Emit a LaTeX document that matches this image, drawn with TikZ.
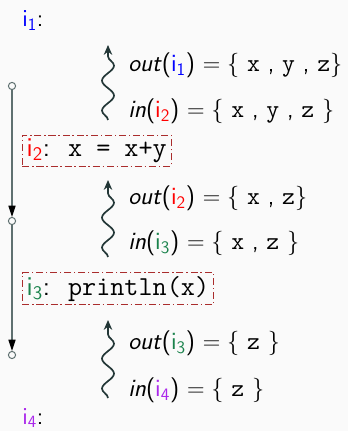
\documentclass[tikz,border=0pt]{standalone}
\usepackage{amsmath}
\usepackage{tikz}
\usetikzlibrary{positioning,arrows.meta,decorations.pathmorphing}
\definecolor{paper}{RGB}{250,250,250}
\definecolor{flowgray}{RGB}{95,112,112}
\definecolor{wavegray}{RGB}{35,55,55}
\definecolor{boxred}{RGB}{170,45,45}
\definecolor{ione}{RGB}{0,0,255}
\definecolor{itwo}{RGB}{255,0,0}
\definecolor{ithree}{RGB}{25,130,75}
\definecolor{ifour}{RGB}{170,40,235}
\newcommand{\ilab}[2]{\textcolor{#1}{i$_{\textsf{#2}}$}}

\begin{document}
\begin{tikzpicture}[
    lbl/.style={font=\fontsize{17.5}{20}\sffamily, anchor=base west, inner sep=0pt},
    stmt/.style={draw=boxred, dash pattern=on 5pt off 2pt on 1pt off 2pt,
                 line width=0.6pt, inner xsep=3pt, inner ysep=2.5pt,
                 anchor=west, font=\fontsize{19.5}{21}\sffamily},
    fact/.style={font=\fontsize{17.8}{21}\sffamily, anchor=base west, inner sep=0pt},
    endpt/.style={circle, draw=flowgray, fill=paper, line width=0.7pt,
                  inner sep=0pt, minimum size=0.18cm},
    flow/.style={draw=flowgray, line width=0.9pt,
                 -{Triangle[length=8pt,width=5pt,black]}},
    wave/.style={draw=wavegray, line width=1.2pt, decorate,
                 decoration={snake, amplitude=0.15cm, segment length=0.75cm,
                             post length=6pt},
                 -{Stealth[length=7pt,width=6pt]}}]
  % ── Canvas ──
  \fill[paper] (0,0) rectangle (8.7,10.775);
  \useasboundingbox (0,0) rectangle (8.7,10.775);

  % ── Program points ──
  \node[lbl] (i1) at (0.55,10.1) {\ilab{ione}{1}:};
  \node[stmt] (s2) at (0.55,7.01) {\ilab{itwo}{2}:\hspace{0.45cm}\texttt{x = x+y}};
  \node[stmt] (s3) at (0.55,3.56) {\ilab{ithree}{3}:\hspace{0.45cm}\texttt{println(x)}};
  \node[lbl] (i4) at (0.55,0.17) {\ilab{ifour}{4}:};

  % ── Control flow ──
  \node[endpt] (c1) at (0.3,8.625) {};
  \node[endpt] (c2) at (0.3,5.25) {};
  \node[endpt] (c3) at (0.3,1.9) {};
  \draw[flow] (c1) -- (c2);
  \draw[flow] (c2) -- (c3);

  % ── Liveness facts ──
  \node[fact] (out1) at (3.2,8.975) {\textsl{out}(\ilab{ione}{1}) $=\{$ \texttt{x} , \texttt{y} , \texttt{z}$\}$};
  \node[fact] (in2) at (3.2,7.825) {\textsl{in}(\ilab{itwo}{2}) $=\{$ \texttt{x} , \texttt{y} , \texttt{z} $\}$};
  \node[fact] (out2) at (3.2,5.65) {\textsl{out}(\ilab{itwo}{2}) $=\{$ \texttt{x} , \texttt{z}$\}$};
  \node[fact] (in3) at (3.2,4.525) {\textsl{in}(\ilab{ithree}{3}) $=\{$ \texttt{x} , \texttt{z} $\}$};
  \node[fact] (out3) at (3.2,2.025) {\textsl{out}(\ilab{ithree}{3}) $=\{$ \texttt{z} $\}$};
  \node[fact] (in4) at (3.2,0.85) {\textsl{in}(\ilab{ifour}{4}) $=\{$ \texttt{z} $\}$};

  % ── Backward propagation ──
  \coordinate (w1a) at (2.7,7.775);
  \coordinate (w1b) at (2.7,9.65);
  \coordinate (w2a) at (2.7,4.35);
  \coordinate (w2b) at (2.7,6.275);
  \coordinate (w3a) at (2.7,0.825);
  \coordinate (w3b) at (2.7,2.775);
  \draw[wave] (w1a) -- (w1b);
  \draw[wave] (w2a) -- (w2b);
  \draw[wave] (w3a) -- (w3b);
\end{tikzpicture}
\end{document}
